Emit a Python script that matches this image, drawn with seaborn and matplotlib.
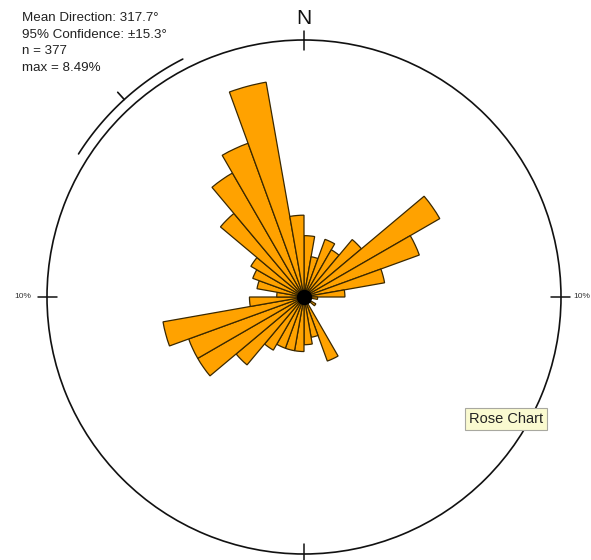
import numpy as np
import pandas as pd
import matplotlib
matplotlib.use("Agg")
import matplotlib.pyplot as plt
import seaborn as sns

# 10-degree direction bins (start azimuth, clockwise from north) and counts per bin
bin_start = list(range(0, 360, 10))
counts = [9, 6, 9, 8, 11, 23, 18, 12, 6, 2,
          1, 1, 2, 1, 1, 10, 6, 7, 8, 8,
          8, 9, 13, 18, 18, 21, 8, 4, 7, 8,
          9, 16, 21, 24, 32, 12]
mean_direction = 317.7
confidence = 15.3
ring_pct = 10  # percent value of the outer ring
ring_labels = ["10%", "10%"]

n = int(np.sum(counts))
pct = np.array(counts) / n * 100.0

df = pd.DataFrame({
    "theta": np.deg2rad(np.array(bin_start) + 5.0),
    "pct": pct,
})

sns.set_style("white")
plt.rcParams["font.family"] = ["Liberation Sans", "DejaVu Sans"]

W, H = 591, 560
fig = plt.figure(figsize=(W / 100, H / 100), dpi=100)
cx, cy, R = 304, 297, 257
ax = fig.add_axes([(cx - R) / W, (H - cy - R) / H, 2 * R / W, 2 * R / H],
                  projection="polar")
ax.set_theta_zero_location("N")
ax.set_theta_direction(-1)

sns.barplot(data=df, x="theta", y="pct", native_scale=True, width=1.0,
            color="#FFA200", saturation=1, edgecolor="#3a2800",
            linewidth=0.9, errorbar=None, ax=ax)

ax.set_xlim(0, 2 * np.pi)
ax.set_ylim(0, ring_pct)
ax.set_xlabel("")
ax.set_ylabel("")
ax.grid(False)
ax.set_xticks([])
ax.set_yticks([])
ax.spines["polar"].set_color("#111111")
ax.spines["polar"].set_linewidth(1.2)

# dark hub where the petals meet
ax.plot([0], [0], "o", color="black", ms=10, zorder=5)

# cardinal tick marks across the ring
for a in (0, 90, 180, 270):
    t = np.deg2rad(a)
    ax.plot([t, t], [ring_pct * 0.963, ring_pct * 1.035], color="#111111",
            lw=1.1, clip_on=False)

# confidence arc around the mean direction, with a tick at the mean
r_arc = ring_pct * 1.039
arc_t = np.deg2rad(np.linspace(mean_direction - confidence,
                               mean_direction + confidence, 80))
ax.plot(arc_t, np.full_like(arc_t, r_arc), color="#111111", lw=1.2,
        clip_on=False)
tm = np.deg2rad(mean_direction)
ax.plot([tm, tm], [r_arc, ring_pct * 1.077], color="#111111", lw=1.2,
        clip_on=False)

# statistics block
stats = [
    f"Mean Direction: {mean_direction}°",
    f"95% Confidence: ±{confidence}°",
    f"n = {n}",
    f"max = {pct.max():.2f}%",
]
for i, line in enumerate(stats):
    fig.text(22 / W, 1 - (21 + i * 16.6) / H, line, fontsize=9.6,
             color="#222222", ha="left", va="baseline")

fig.text(cx / W, 1 - 24 / H, "N", fontsize=15, color="#111111",
         ha="center", va="baseline")
fig.text(23 / W, 1 - 296 / H, ring_labels[0], fontsize=6, color="#333333",
         ha="center", va="center")
fig.text(590 / W, 1 - 296 / H, ring_labels[1], fontsize=6, color="#333333",
         ha="right", va="center")

fig.text(506 / W, 1 - 419 / H, "Rose Chart", fontsize=10.5, color="#222222",
         ha="center", va="center",
         bbox=dict(boxstyle="square,pad=0.3", fc="#FAFAD0", ec="#A8A8A0",
                   lw=0.8))

fig.savefig("out.png", dpi=100, facecolor="white")
